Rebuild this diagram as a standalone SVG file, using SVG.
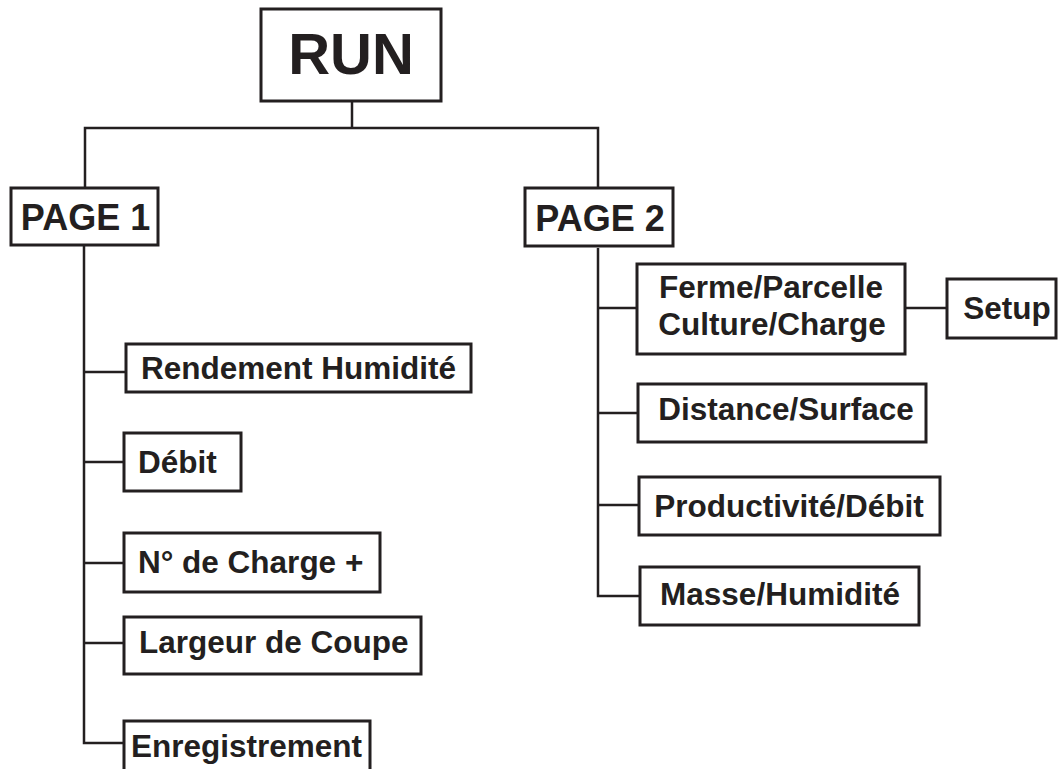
<svg xmlns="http://www.w3.org/2000/svg" width="1059" height="769" viewBox="0 0 1059 769">
<style>
.box{fill:#fff;stroke:#231f20;stroke-width:3}
.ln{fill:none;stroke:#231f20;stroke-width:2.5}
text{font-family:"Liberation Sans",Arial,sans-serif;font-weight:bold;fill:#231f20}
.s{font-size:31.5px}
.m{text-anchor:middle}
</style>
<rect width="1059" height="769" fill="#fff"/>
<g id="connectors">
<polyline class="ln" points="352,102 352,128"/>
<polyline class="ln" points="85,188 85,128 598,128 598,188"/>
<polyline class="ln" points="84,246 84,743 125,743"/>
<line class="ln" x1="84" y1="372" x2="126" y2="372"/>
<line class="ln" x1="84" y1="462" x2="124" y2="462"/>
<line class="ln" x1="84" y1="563" x2="124" y2="563"/>
<line class="ln" x1="84" y1="643" x2="124" y2="643"/>
<polyline class="ln" points="598,248 598,596 640,596"/>
<line class="ln" x1="598" y1="308" x2="637" y2="308"/>
<line class="ln" x1="598" y1="413" x2="638" y2="413"/>
<line class="ln" x1="598" y1="505" x2="639" y2="505"/>
<line class="ln" x1="905" y1="308" x2="947" y2="308"/>
</g>
<g id="run"><rect class="box" x="261" y="9" width="180" height="92"/><text class="m" x="351" y="74" font-size="58">RUN</text></g>
<g id="page1"><rect class="box" x="11" y="188" width="147" height="57"/><text class="m" x="85.5" y="230" font-size="36">PAGE 1</text></g>
<g id="page2"><rect class="box" x="525" y="188" width="148" height="58"/><text class="m" x="600" y="231" font-size="36">PAGE 2</text></g>
<g id="rendement"><rect class="box" x="126" y="344" width="345" height="48"/><text class="s" x="141" y="379">Rendement Humidité</text></g>
<g id="debit"><rect class="box" x="124" y="433" width="117" height="58"/><text class="s" x="138" y="473">Débit</text></g>
<g id="ncharge"><rect class="box" x="124" y="533" width="256" height="59"/><text class="s" x="138" y="573">N° de Charge +</text></g>
<g id="largeur"><rect class="box" x="124" y="617" width="297" height="57"/><text class="s" x="139" y="653">Largeur de Coupe</text></g>
<g id="enregistrement"><rect class="box" x="124" y="721" width="246" height="80"/><text class="s" x="131" y="757">Enregistrement</text></g>
<g id="ferme"><rect class="box" x="637" y="264" width="268" height="90"/><text class="s m" x="771" y="298">Ferme/Parcelle</text><text class="s m" x="772" y="335">Culture/Charge</text></g>
<g id="setup"><rect class="box" x="947" y="279" width="109" height="59"/><text class="s m" x="1007" y="319">Setup</text></g>
<g id="distance"><rect class="box" x="638" y="384" width="288" height="58"/><text class="s m" x="786" y="420">Distance/Surface</text></g>
<g id="productivite"><rect class="box" x="639" y="477" width="301" height="58"/><text class="s m" x="789" y="517">Productivité/Débit</text></g>
<g id="masse"><rect class="box" x="640" y="567" width="279" height="58"/><text class="s m" x="780" y="605">Masse/Humidité</text></g>
</svg>
